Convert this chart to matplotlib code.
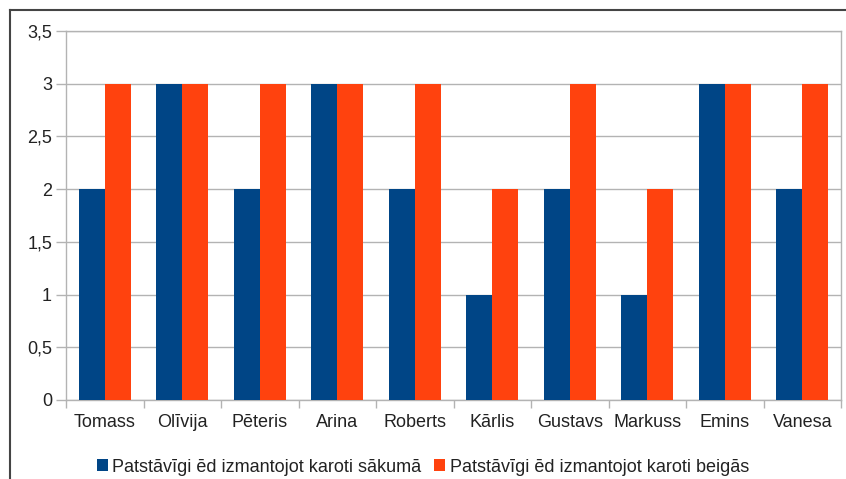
import numpy as np
import matplotlib
matplotlib.use("Agg")
import matplotlib.pyplot as plt
from matplotlib.lines import Line2D

plt.rcParams["font.family"] = ["Liberation Sans", "DejaVu Sans"]

# ── Data ───────────────────────────────────────────────────────────────────
names = ["Tomass", "Olīvija", "Pēteris", "Arina", "Roberts",
         "Kārlis", "Gustavs", "Markuss", "Emins", "Vanesa"]
start = [2, 3, 2, 3, 2, 1, 2, 1, 3, 2]
end = [3, 3, 3, 3, 3, 2, 3, 2, 3, 3]
series_labels = ["Patstāvīgi ēd izmantojot karoti sākumā",
                 "Patstāvīgi ēd izmantojot karoti beigās"]

BLUE = "#004586"
ORANGE = "#ff420e"
GRID = "#b3b3b3"
TXT = "#222222"
FS = 13

fig = plt.figure(figsize=(8.46, 4.79), dpi=100)
ax = fig.add_axes([66 / 846, 1 - 400 / 479, (841 - 66) / 846, (400 - 31) / 479])

x = np.arange(len(names))
w = 1 / 3
ax.bar(x - w / 2, start, width=w, color=BLUE, label=series_labels[0], zorder=3)
ax.bar(x + w / 2, end, width=w, color=ORANGE, label=series_labels[1], zorder=3)

ax.set_xlim(-0.5, len(names) - 0.5)
ax.set_ylim(0, 3.5)
yt = np.arange(0, 3.51, 0.5)
ax.set_yticks(yt)
ax.set_yticklabels([f"{v:g}".replace(".", ",") for v in yt])
ax.yaxis.grid(True, color=GRID, linewidth=1, zorder=0)

# category labels centred, ticks on the boundaries
ax.set_xticks(x)
ax.set_xticklabels(names)
ax.set_xticks(np.arange(-0.5, len(names)), minor=True)
ax.tick_params(axis="x", which="major", length=0, pad=10, labelsize=FS, labelcolor=TXT)
ax.tick_params(axis="x", which="minor", length=6, color=GRID, width=1)
ax.tick_params(axis="y", length=7, color=GRID, width=1, pad=3, labelsize=FS, labelcolor=TXT)

for s in ax.spines.values():
    s.set_color(GRID)
    s.set_linewidth(1)

fig.legend(loc="center", bbox_to_anchor=(0.5, 1 - 467 / 479), ncol=2,
           frameon=False, fontsize=FS, handlelength=0.6, handleheight=0.6,
           handletextpad=0.25, columnspacing=0.7, labelcolor=TXT)

# screenshot frame
fig.add_artist(Line2D([10 / 846, 10 / 846], [0, 1 - 10 / 479],
                      transform=fig.transFigure, color="#444444", linewidth=1.5))
fig.add_artist(Line2D([10 / 846, 1], [1 - 10 / 479, 1 - 10 / 479],
                      transform=fig.transFigure, color="#444444", linewidth=1.5))

fig.savefig("out.png", dpi=100)
